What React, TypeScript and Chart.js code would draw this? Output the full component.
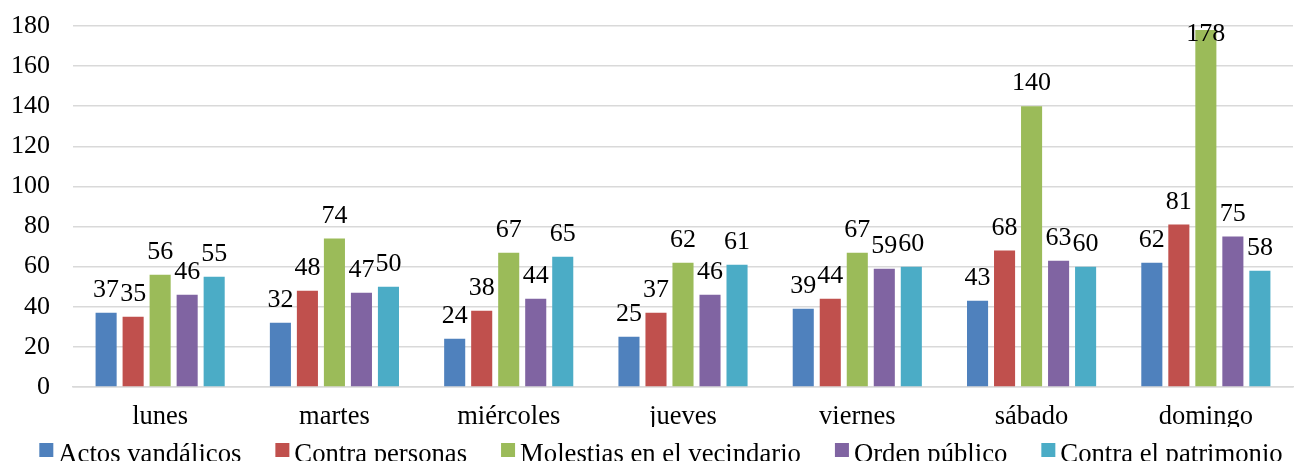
import React, { useEffect, useRef } from "react";
import { Chart, registerables } from "chart.js";

Chart.register(...registerables);

const categories = ["lunes", "martes", "miércoles", "jueves", "viernes", "sábado", "domingo"];
const seriesNames = ["Actos vandálicos", "Contra personas", "Molestias en el vecindario", "Orden público", "Contra el patrimonio"];
const actosVandalicos = [37, 32, 24, 25, 39, 43, 62];
const contraPersonas = [35, 48, 38, 37, 44, 68, 81];
const molestiasVecindario = [56, 74, 67, 62, 67, 140, 178];
const ordenPublico = [46, 47, 44, 46, 59, 63, 75];
const contraPatrimonio = [55, 50, 65, 61, 60, 60, 58];
const yTicks = [0, 20, 40, 60, 80, 100, 120, 140, 160, 180];
const colors = ["#4F81BD", "#C0504D", "#9BBB59", "#8064A2", "#4BACC6"];

const FONT = '"Liberation Serif", "Times New Roman", serif';

const valueLabels = {
  id: "valueLabels",
  afterDatasetsDraw(chart: any) {
    const ctx = chart.ctx;
    ctx.save();
    ctx.font = `26px ${FONT}`;
    ctx.fillStyle = "#000";
    ctx.textAlign = "center";
    ctx.textBaseline = "alphabetic";
    chart.data.datasets.forEach((ds: any, i: number) => {
      const meta = chart.getDatasetMeta(i);
      meta.data.forEach((bar: any, j: number) => {
        const y = Math.max(bar.y - 16, chart.chartArea.top + 15);
        ctx.fillText(String(ds.data[j]), bar.x, y);
      });
    });
    ctx.restore();
  },
};

const customLegend = {
  id: "customLegend",
  afterDraw(chart: any) {
    const ctx = chart.ctx;
    ctx.save();
    ctx.font = `26.7px ${FONT}`;
    ctx.textBaseline = "alphabetic";
    ctx.textAlign = "left";
    const box = 14;
    const gapBox = 5;
    const gapItem = 34;
    const items = chart.data.datasets.map((ds: any) => ({
      label: ds.label,
      color: ds.backgroundColor,
      w: box + gapBox + ctx.measureText(ds.label).width,
    }));
    const total = items.reduce((s: number, it: any) => s + it.w, 0) + gapItem * (items.length - 1);
    let x = 661 - total / 2;
    items.forEach((it: any) => {
      ctx.fillStyle = it.color;
      ctx.fillRect(x, 443, box, box);
      ctx.fillStyle = "#000";
      ctx.fillText(it.label, x + box + gapBox, 462);
      x += it.w + gapItem;
    });
    ctx.restore();
  },
};

export default function App() {
  const ref = useRef<HTMLCanvasElement>(null);
  useEffect(() => {
    document.body.style.margin = "0";
    const seriesData = [actosVandalicos, contraPersonas, molestiasVecindario, ordenPublico, contraPatrimonio];
    const chart = new Chart(ref.current!, {
      type: "bar",
      data: {
        labels: categories,
        datasets: seriesNames.map((name, i) => ({
          label: name,
          data: seriesData[i],
          backgroundColor: colors[i],
          barPercentage: 0.78,
          categoryPercentage: 0.775,
        })),
      },
      options: {
        animation: false,
        responsive: false,
        devicePixelRatio: 1,
        layout: { padding: { top: 26, right: 2, bottom: 34, left: 0 } },
        plugins: { legend: { display: false }, tooltip: { enabled: false } },
        scales: {
          x: {
            grid: { display: false, drawTicks: false },
            border: { display: true, color: "#d9d9d9", width: 1.5 },
            ticks: { color: "#000", font: { family: FONT, size: 26.5 }, padding: 14, maxRotation: 0 },
            afterFit: (s: any) => { s.height = 40; s.paddingLeft = 0; s.paddingRight = 0; },
          },
          y: {
            min: 0,
            max: 180,
            afterBuildTicks: (s: any) => { s.ticks = yTicks.map((v) => ({ value: v })); },
            grid: { color: "#d9d9d9", lineWidth: 1.5, drawTicks: false },
            border: { display: false },
            ticks: { color: "#000", font: { family: FONT, size: 26 }, padding: 23 },
            afterFit: (s: any) => { s.width = 73; s.paddingTop = 0; s.paddingBottom = 0; },
          },
        },
      },
      plugins: [valueLabels, customLegend],
    });
    return () => chart.destroy();
  }, []);
  return <canvas ref={ref} width={1295} height={461} style={{ display: "block" }} />;
}
